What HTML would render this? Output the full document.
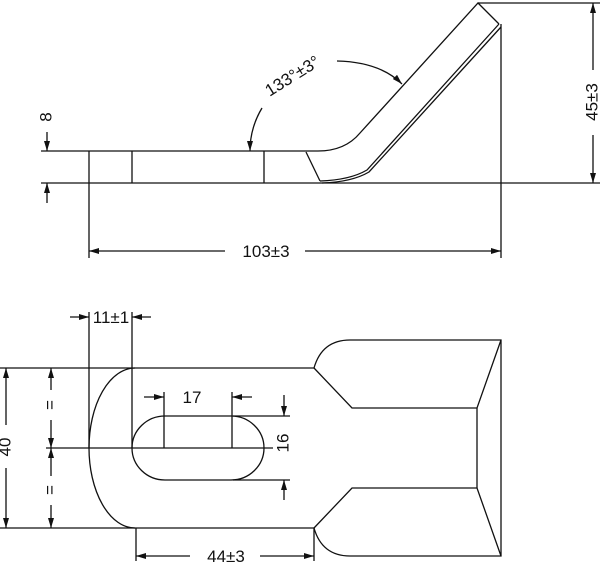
<!DOCTYPE html>
<html><head><style>
html,body{margin:0;padding:0;background:#fff;}
svg{display:block;}
text{font-family:"Liberation Sans",sans-serif;font-size:17px;fill:#111;}
</style></head><body>
<svg width="600" height="562" viewBox="0 0 600 562" xmlns="http://www.w3.org/2000/svg">
<defs>
<marker id="a" viewBox="0 0 10 6" refX="10" refY="3" markerWidth="10" markerHeight="6" orient="auto-start-reverse" markerUnits="userSpaceOnUse">
<path d="M0,0 L10,3 L0,6 z" fill="#111"/>
</marker>
</defs>
<g stroke="#111" stroke-width="1.3" fill="none">
<!-- TOP VIEW -->
<line x1="41" y1="151" x2="318" y2="151"/>
<line x1="41" y1="183" x2="600" y2="183"/>
<line x1="89" y1="151" x2="89" y2="258"/>
<line x1="132" y1="151" x2="132" y2="183"/>
<line x1="264" y1="151" x2="264" y2="183"/>
<path d="M318,151 Q345,151 360,133 L478,3 L499,24"/>
<path d="M499,24 L367,170 Q350,180 320,181"/>
<path d="M501,27 L369,172 Q352,182 322,183"/>
<line x1="306" y1="152" x2="320" y2="181"/>
<line x1="501" y1="24" x2="501" y2="258"/>
<line x1="478" y1="3" x2="600" y2="3"/>
<line x1="593" y1="70" x2="593" y2="3" marker-end="url(#a)"/>
<line x1="593" y1="135" x2="593" y2="183" marker-end="url(#a)"/>
<line x1="47" y1="132" x2="47" y2="151" marker-end="url(#a)"/>
<line x1="47" y1="203" x2="47" y2="183" marker-end="url(#a)"/>
<line x1="225" y1="251" x2="89" y2="251" marker-end="url(#a)"/>
<line x1="305" y1="251" x2="501" y2="251" marker-end="url(#a)"/>
<path d="M337,61 Q380,62 402,84" marker-end="url(#a)"/>
<path d="M262,108 Q250,128 250,151" marker-end="url(#a)"/>
<!-- BOTTOM VIEW -->
<line x1="0" y1="368" x2="314" y2="368"/>
<line x1="0" y1="528" x2="314" y2="528"/>
<path d="M135,368 A46,80 0 0 0 135,528"/>
<line x1="89" y1="312" x2="89" y2="448"/>
<line x1="132" y1="312" x2="132" y2="448"/>
<line x1="46" y1="448" x2="273" y2="448"/>
<rect x="132" y="416" width="132" height="64" rx="33" ry="32"/>
<line x1="164" y1="392" x2="164" y2="448"/>
<line x1="232" y1="392" x2="232" y2="448"/>
<line x1="144" y1="397" x2="164" y2="397" marker-end="url(#a)"/>
<line x1="252" y1="397" x2="232" y2="397" marker-end="url(#a)"/>
<line x1="233" y1="416" x2="290" y2="416"/>
<line x1="233" y1="480" x2="290" y2="480"/>
<line x1="284" y1="395" x2="284" y2="416" marker-end="url(#a)"/>
<line x1="284" y1="500" x2="284" y2="480" marker-end="url(#a)"/>
<line x1="70" y1="317" x2="89" y2="317" marker-end="url(#a)"/>
<line x1="151" y1="317" x2="132" y2="317" marker-end="url(#a)"/>
<line x1="6" y1="425" x2="6" y2="368" marker-end="url(#a)"/>
<line x1="6" y1="468" x2="6" y2="528" marker-end="url(#a)"/>
<line x1="51" y1="390" x2="51" y2="368" marker-end="url(#a)"/>
<line x1="51" y1="420" x2="51" y2="448" marker-end="url(#a)"/>
<line x1="51" y1="476" x2="51" y2="448" marker-end="url(#a)"/>
<line x1="51" y1="505" x2="51" y2="528" marker-end="url(#a)"/>
<line x1="136" y1="528" x2="136" y2="561"/>
<line x1="314" y1="528" x2="314" y2="561"/>
<line x1="190" y1="556" x2="136" y2="556" marker-end="url(#a)"/>
<line x1="260" y1="556" x2="314" y2="556" marker-end="url(#a)"/>
<path d="M314,368 Q322,340 350,340 L501,340 L501,556 L350,556 Q322,556 314,528"/>
<path d="M314,368 L352,408 L477,408 L501,340"/>
<path d="M314,528 L352,488 L477,488 L501,556"/>
<line x1="477" y1="408" x2="477" y2="488"/>
</g>
<g>
<text x="593" y="102" text-anchor="middle" transform="rotate(-90 593 102)" dominant-baseline="middle">45±3</text>
<text x="47" y="117" text-anchor="middle" transform="rotate(-90 47 117)" dominant-baseline="middle">8</text>
<text x="266" y="257" text-anchor="middle">103±3</text>
<text x="293" y="77" text-anchor="middle" transform="rotate(-32 293 77)" dominant-baseline="middle">133°±3°</text>
<text x="111" y="323" text-anchor="middle">11±1</text>
<text x="192" y="403" text-anchor="middle">17</text>
<text x="284" y="443" text-anchor="middle" transform="rotate(-90 284 443)" dominant-baseline="middle">16</text>
<text x="6" y="447" text-anchor="middle" transform="rotate(-90 6 447)" dominant-baseline="middle">40</text>
<text x="51" y="405" text-anchor="middle" transform="rotate(-90 51 405)" dominant-baseline="middle">=</text>
<text x="51" y="490" text-anchor="middle" transform="rotate(-90 51 490)" dominant-baseline="middle">=</text>
<text x="226" y="562" text-anchor="middle">44±3</text>
</g>
</svg>
</body></html>
